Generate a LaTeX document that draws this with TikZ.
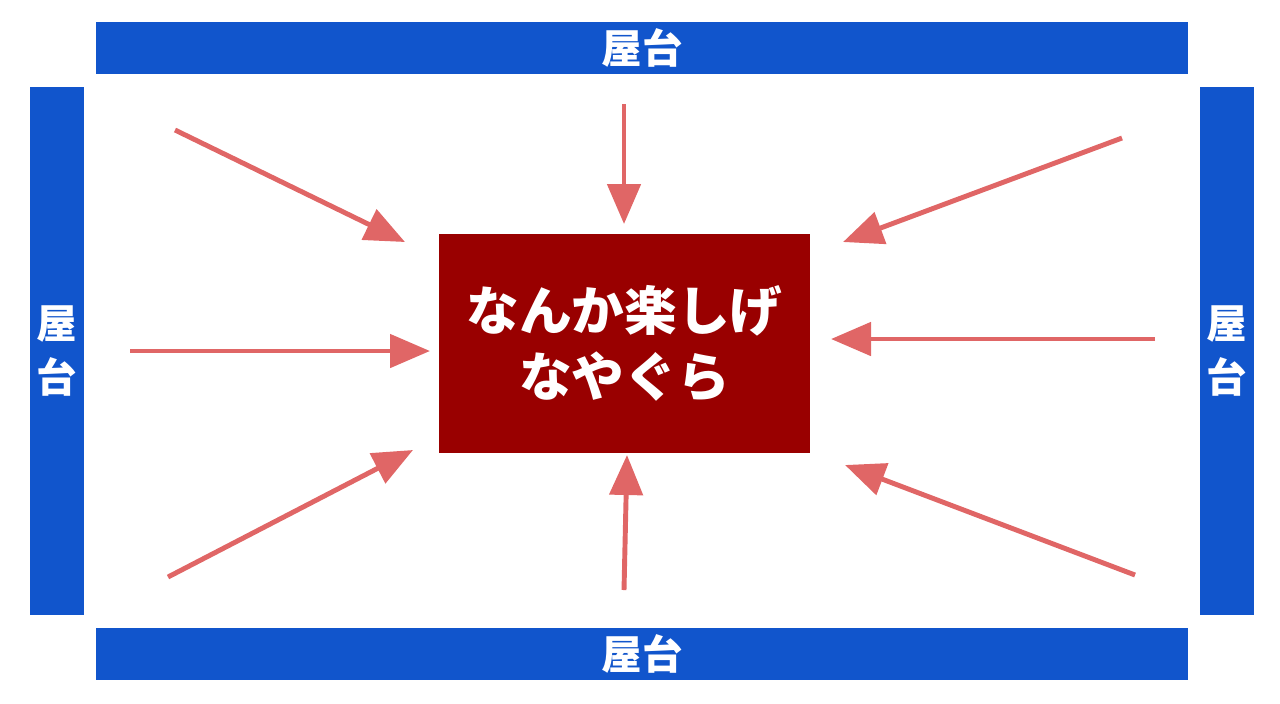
\documentclass[tikz,border=0pt]{standalone}
\usepackage{fontspec}
\newfontfamily\jpfont{Noto Sans CJK JP}
\usetikzlibrary{arrows.meta}
\definecolor{stallblue}{HTML}{1155CC}
\definecolor{towerred}{HTML}{990000}
\definecolor{flowred}{HTML}{E06666}

\begin{document}
\begin{tikzpicture}[every node/.style={font=\jpfont\bfseries, text=white, inner sep=0pt},
	stall/.style={fill=stallblue, font=\jpfont\bfseries\fontsize{11.5}{15.5}\selectfont, align=center},
	>={Triangle[length=4mm, width=3.3mm]}]
	\useasboundingbox (0,0) rectangle (12.8,7.03);
	% stalls around the tower
	\node[stall, minimum width=10.92cm, minimum height=0.52cm] (top) at (6.42,6.55) {屋台};
	\node[stall, minimum width=10.92cm, minimum height=0.52cm] (bottom) at (6.42,0.49) {屋台};
	\node[stall, minimum width=0.54cm, minimum height=5.28cm] (left) at (0.57,3.52) {屋\\台};
	\node[stall, minimum width=0.54cm, minimum height=5.28cm] (right) at (12.27,3.52) {屋\\台};
	\node[fill=towerred, minimum width=3.71cm, minimum height=2.19cm, align=center,
		font=\jpfont\bfseries\fontsize{15}{19}\selectfont] (tower) at (6.245,3.595) {なんか楽しげ\\なやぐら};
	% arrows towards the tower
	\coordinate (s1) at (1.75,5.73);  \coordinate (e1) at (4.05,4.61);
	\coordinate (s2) at (6.24,5.99);  \coordinate (e2) at (6.24,4.79);
	\coordinate (s3) at (11.22,5.65); \coordinate (e3) at (8.43,4.61);
	\coordinate (s4) at (1.30,3.52);  \coordinate (e4) at (4.30,3.52);
	\coordinate (s5) at (11.55,3.64); \coordinate (e5) at (8.31,3.64);
	\coordinate (s6) at (1.68,1.26);  \coordinate (e6) at (4.13,2.53);
	\coordinate (s7) at (6.24,1.13);  \coordinate (e7) at (6.27,2.48);
	\coordinate (s8) at (11.35,1.28); \coordinate (e8) at (8.45,2.38);
	\foreach \i in {1,...,8} {
		\draw[->, flowred, line width=1.4pt] (s\i) -- (e\i);
	}
\end{tikzpicture}
\end{document}
